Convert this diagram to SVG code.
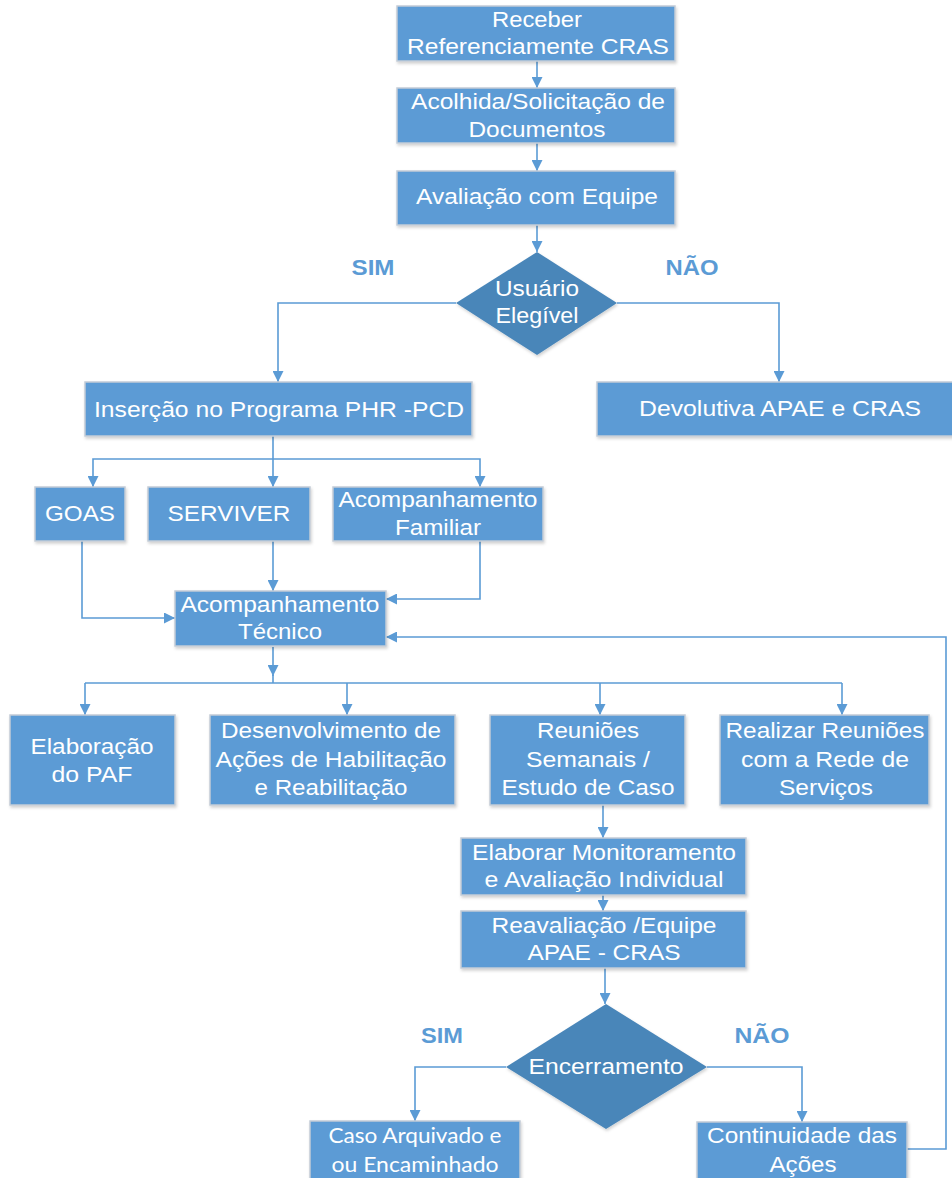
<svg xmlns="http://www.w3.org/2000/svg" width="952" height="1178" viewBox="0 0 952 1178">
<defs>
<style>
.box{fill:#5B9BD5;stroke:#C3CCD6;stroke-width:1.5;filter:url(#sh)}
.dia{fill:#4A86B9;filter:url(#sh)}
.t{font-family:"Liberation Sans",Arial,sans-serif;font-size:22px;fill:#FFFFFF;text-anchor:middle}
.c{font-family:Lato,"Open Sans",sans-serif;font-size:21px;fill:#FFFFFF;text-anchor:middle}
.lab{font-family:"Liberation Sans",Arial,sans-serif;font-size:22px;font-weight:bold;fill:#5B9BD5;text-anchor:middle}
.ln{fill:none;stroke:#5B9BD5;stroke-width:1.6}
</style>
<filter id="sh" x="-10%" y="-10%" width="120%" height="130%">
<feDropShadow dx="1" dy="2" stdDeviation="1.5" flood-color="#000" flood-opacity="0.18"/>
</filter>
<marker id="ar" markerUnits="userSpaceOnUse" markerWidth="11" markerHeight="11" refX="10" refY="5" orient="auto" viewBox="0 0 10 10">
<path d="M0,0 L10,5 L0,10 z" fill="#5B9BD5"/>
</marker>
</defs>

<g id="connectors">
<path class="ln" d="M537,61 V88" marker-end="url(#ar)"/>
<path class="ln" d="M537,143 V171" marker-end="url(#ar)"/>
<path class="ln" d="M537,225 V252" marker-end="url(#ar)"/>
<path class="ln" d="M456,303 H278 V382" marker-end="url(#ar)"/>
<path class="ln" d="M617,303 H779 V382" marker-end="url(#ar)"/>
<path class="ln" d="M273,436 V487" marker-end="url(#ar)"/>
<path class="ln" d="M273,459 H93 V487" marker-end="url(#ar)"/>
<path class="ln" d="M273,459 H480 V487" marker-end="url(#ar)"/>
<path class="ln" d="M82,541 V618 H175" marker-end="url(#ar)"/>
<path class="ln" d="M273,541 V591" marker-end="url(#ar)"/>
<path class="ln" d="M480,541 V599 H386" marker-end="url(#ar)"/>
<path class="ln" d="M273,647 V676" marker-end="url(#ar)"/>
<path class="ln" d="M273,675 V683"/>
<path class="ln" d="M85,683 H842"/>
<path class="ln" d="M85,683 V715" marker-end="url(#ar)"/>
<path class="ln" d="M347,683 V715" marker-end="url(#ar)"/>
<path class="ln" d="M600,683 V715" marker-end="url(#ar)"/>
<path class="ln" d="M842,683 V715" marker-end="url(#ar)"/>
<path class="ln" d="M603,805 V838" marker-end="url(#ar)"/>
<path class="ln" d="M603,895 V911" marker-end="url(#ar)"/>
<path class="ln" d="M605,968 V1004" marker-end="url(#ar)"/>
<path class="ln" d="M506,1067 H415 V1121" marker-end="url(#ar)"/>
<path class="ln" d="M707,1067 H802 V1122" marker-end="url(#ar)"/>
<path class="ln" d="M907,1149 H946 V637 H386" marker-end="url(#ar)"/>
</g>

<g id="n-receber">
<rect class="box" x="397" y="6" width="278" height="55"/>
<text class="t" x="537" y="27" textLength="90" lengthAdjust="spacingAndGlyphs">Receber</text>
<text class="t" x="538" y="54" textLength="262" lengthAdjust="spacingAndGlyphs">Referenciamente CRAS</text>
</g>
<g id="n-acolhida">
<rect class="box" x="397" y="88" width="278" height="55"/>
<text class="t" x="538" y="109" textLength="254" lengthAdjust="spacingAndGlyphs">Acolhida/Solicitação de</text>
<text class="t" x="537" y="137" textLength="137" lengthAdjust="spacingAndGlyphs">Documentos</text>
</g>
<g id="n-avaliacao">
<rect class="box" x="397" y="171" width="278" height="54"/>
<text class="t" x="537" y="204" textLength="242" lengthAdjust="spacingAndGlyphs">Avaliação com Equipe</text>
</g>
<g id="n-elegivel">
<polygon class="dia" points="537,252 617,303 537,355 456,303"/>
<text class="t" x="537" y="296" textLength="84" lengthAdjust="spacingAndGlyphs">Usuário</text>
<text class="t" x="537" y="323" textLength="83" lengthAdjust="spacingAndGlyphs">Elegível</text>
</g>
<text class="lab" x="373" y="275" textLength="43" lengthAdjust="spacingAndGlyphs">SIM</text>
<text class="lab" x="692" y="275" textLength="53" lengthAdjust="spacingAndGlyphs">NÃO</text>

<g id="n-insercao">
<rect class="box" x="85" y="382" width="387" height="54"/>
<text class="t" x="279" y="417" textLength="370" lengthAdjust="spacingAndGlyphs">Inserção no Programa PHR -PCD</text>
</g>
<g id="n-devolutiva">
<rect class="box" x="597" y="382" width="358" height="54"/>
<text class="t" x="780" y="416" textLength="282" lengthAdjust="spacingAndGlyphs">Devolutiva APAE e CRAS</text>
</g>

<g id="n-goas">
<rect class="box" x="35" y="487" width="90" height="54"/>
<text class="t" x="80" y="521" textLength="70" lengthAdjust="spacingAndGlyphs">GOAS</text>
</g>
<g id="n-serviver">
<rect class="box" x="148" y="487" width="162" height="54"/>
<text class="t" x="229" y="521" textLength="123" lengthAdjust="spacingAndGlyphs">SERVIVER</text>
</g>
<g id="n-familiar">
<rect class="box" x="333" y="487" width="210" height="54"/>
<text class="t" x="438" y="507" textLength="199" lengthAdjust="spacingAndGlyphs">Acompanhamento</text>
<text class="t" x="438" y="535" textLength="86" lengthAdjust="spacingAndGlyphs">Familiar</text>
</g>
<g id="n-tecnico">
<rect class="box" x="175" y="591" width="211" height="55"/>
<text class="t" x="280" y="612" textLength="199" lengthAdjust="spacingAndGlyphs">Acompanhamento</text>
<text class="t" x="280" y="639" textLength="84" lengthAdjust="spacingAndGlyphs">Técnico</text>
</g>

<g id="n-paf">
<rect class="box" x="10" y="715" width="165" height="90"/>
<text class="t" x="92" y="754" textLength="123" lengthAdjust="spacingAndGlyphs">Elaboração</text>
<text class="t" x="92" y="782" textLength="81" lengthAdjust="spacingAndGlyphs">do PAF</text>
</g>
<g id="n-desenvolvimento">
<rect class="box" x="210" y="715" width="245" height="90"/>
<text class="t" x="331" y="738" textLength="220" lengthAdjust="spacingAndGlyphs">Desenvolvimento de</text>
<text class="t" x="331" y="767" textLength="231" lengthAdjust="spacingAndGlyphs">Ações de Habilitação</text>
<text class="t" x="331" y="795" textLength="153" lengthAdjust="spacingAndGlyphs">e Reabilitação</text>
</g>
<g id="n-reunioes">
<rect class="box" x="490" y="715" width="195" height="90"/>
<text class="t" x="588" y="738" textLength="102" lengthAdjust="spacingAndGlyphs">Reuniões</text>
<text class="t" x="588" y="767" textLength="124" lengthAdjust="spacingAndGlyphs">Semanais /</text>
<text class="t" x="588" y="795" textLength="173" lengthAdjust="spacingAndGlyphs">Estudo de Caso</text>
</g>
<g id="n-rede">
<rect class="box" x="720" y="715" width="209" height="90"/>
<text class="t" x="825" y="738" textLength="199" lengthAdjust="spacingAndGlyphs">Realizar Reuniões</text>
<text class="t" x="825" y="767" textLength="168" lengthAdjust="spacingAndGlyphs">com a Rede de</text>
<text class="t" x="826" y="795" textLength="94" lengthAdjust="spacingAndGlyphs">Serviços</text>
</g>

<g id="n-monitoramento">
<rect class="box" x="461" y="838" width="285" height="57"/>
<text class="t" x="604" y="860" textLength="264" lengthAdjust="spacingAndGlyphs">Elaborar Monitoramento</text>
<text class="t" x="604" y="887" textLength="239" lengthAdjust="spacingAndGlyphs">e Avaliação Individual</text>
</g>
<g id="n-reavaliacao">
<rect class="box" x="461" y="911" width="285" height="57"/>
<text class="t" x="604" y="933" textLength="225" lengthAdjust="spacingAndGlyphs">Reavaliação /Equipe</text>
<text class="t" x="604" y="960" textLength="153" lengthAdjust="spacingAndGlyphs">APAE - CRAS</text>
</g>
<g id="n-encerramento">
<polygon class="dia" points="606,1004 707,1067 606,1129 506,1067"/>
<text class="t" x="606" y="1074" textLength="155" lengthAdjust="spacingAndGlyphs">Encerramento</text>
</g>
<text class="lab" x="442" y="1043" textLength="42" lengthAdjust="spacingAndGlyphs">SIM</text>
<text class="lab" x="762" y="1043" textLength="55" lengthAdjust="spacingAndGlyphs">NÃO</text>

<g id="n-arquivado">
<rect class="box" x="310" y="1121" width="210" height="70"/>
<text class="c" x="415" y="1143" textLength="173" lengthAdjust="spacingAndGlyphs">Caso Arquivado e</text>
<text class="c" x="415" y="1172" textLength="167" lengthAdjust="spacingAndGlyphs">ou Encaminhado</text>
</g>
<g id="n-continuidade">
<rect class="box" x="697" y="1122" width="210" height="70"/>
<text class="t" x="802" y="1143" textLength="190" lengthAdjust="spacingAndGlyphs">Continuidade das</text>
<text class="t" x="803" y="1172" textLength="67" lengthAdjust="spacingAndGlyphs">Ações</text>
</g>
</svg>
